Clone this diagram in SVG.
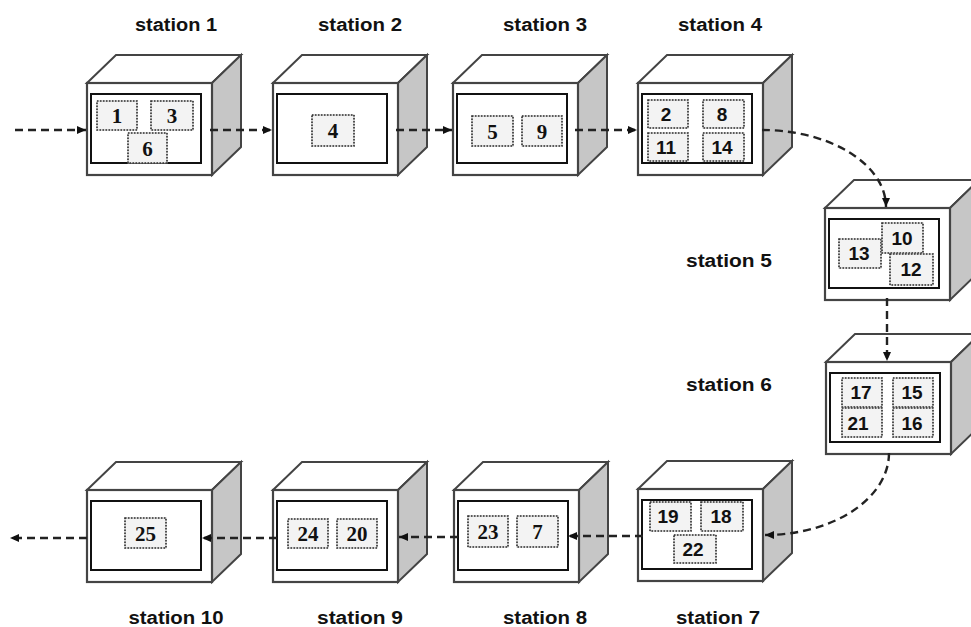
<svg xmlns="http://www.w3.org/2000/svg" xmlns:xlink="http://www.w3.org/1999/xlink" width="971" height="627" viewBox="0 0 971 627">
<style>
.bg{fill:#ffffff}
.front{fill:#ffffff;stroke:#444;stroke-width:2.2}
.top{fill:#ffffff;stroke:#444;stroke-width:2}
.side{fill:#c6c6c6;stroke:#444;stroke-width:2}
.inner{fill:#ffffff;stroke:#111;stroke-width:2}
.item{fill:#f3f3f3;stroke:#b0b0b0;stroke-width:1}
.dot{fill:none;stroke:#333;stroke-width:1.6;stroke-dasharray:1.5 1.5}
.lbl{font-family:"Liberation Sans",Arial,sans-serif;font-weight:bold;font-size:18px;fill:#111;text-anchor:middle}
.ns{font-family:"Liberation Serif","Times New Roman",serif;font-weight:bold;font-size:21px;fill:#111;text-anchor:middle}
.na{font-family:"Liberation Sans",Arial,sans-serif;font-weight:bold;font-size:19px;fill:#111;text-anchor:middle}
.con{fill:none;stroke:#222;stroke-width:2.4;stroke-dasharray:8 5}
</style>
<defs>
<marker id="arr" markerUnits="userSpaceOnUse" markerWidth="9" markerHeight="8" refX="9" refY="4" orient="auto">
<path d="M0,0 L9,4 L0,8 z" fill="#111"/>
</marker>
<g id="cube">
<polygon class="top" points="0,0 29,-28 154,-28 125,0"/>
<polygon class="side" points="125,0 154,-28 154,64 125,92"/>
<rect class="front" x="0" y="0" width="125" height="92"/>
<rect class="inner" x="4" y="11" width="110" height="69"/>
</g>
</defs>
<rect class="bg" x="0" y="0" width="971" height="627"/>

<g id="station1">
<use xlink:href="#cube" href="#cube" transform="translate(87,83)"/>
<rect class="item" x="97" y="101" width="40" height="29"/><rect class="dot" x="97" y="101" width="40" height="29"/><text class="ns" x="117" y="123">1</text>
<rect class="item" x="151" y="101" width="42" height="29"/><rect class="dot" x="151" y="101" width="42" height="29"/><text class="ns" x="172" y="123">3</text>
<rect class="item" x="128" y="133" width="39" height="30"/><rect class="dot" x="128" y="133" width="39" height="30"/><text class="ns" x="147.5" y="156">6</text>
<text class="lbl" x="176" y="31" textLength="82" lengthAdjust="spacingAndGlyphs">station 1</text>
</g>

<g id="station2">
<use xlink:href="#cube" href="#cube" transform="translate(273,83)"/>
<rect class="item" x="312" y="115" width="42" height="31"/><rect class="dot" x="312" y="115" width="42" height="31"/><text class="ns" x="333" y="138">4</text>
<text class="lbl" x="360" y="31" textLength="84" lengthAdjust="spacingAndGlyphs">station 2</text>
</g>

<g id="station3">
<use xlink:href="#cube" href="#cube" transform="translate(453,83)"/>
<rect class="item" x="472" y="116" width="41" height="30"/><rect class="dot" x="472" y="116" width="41" height="30"/><text class="ns" x="492.5" y="139">5</text>
<rect class="item" x="522" y="116" width="40" height="30"/><rect class="dot" x="522" y="116" width="40" height="30"/><text class="ns" x="542" y="139">9</text>
<text class="lbl" x="545" y="31" textLength="84" lengthAdjust="spacingAndGlyphs">station 3</text>
</g>

<g id="station4">
<use xlink:href="#cube" href="#cube" transform="translate(638,83)"/>
<rect class="item" x="648" y="100" width="40" height="28"/><rect class="dot" x="648" y="100" width="40" height="28"/><text class="na" x="666" y="121">2</text>
<rect class="item" x="703" y="100" width="41" height="28"/><rect class="dot" x="703" y="100" width="41" height="28"/><text class="na" x="722" y="121">8</text>
<rect class="item" x="648" y="133" width="40" height="28"/><rect class="dot" x="648" y="133" width="40" height="28"/><text class="na" x="666" y="154">11</text>
<rect class="item" x="703" y="133" width="41" height="28"/><rect class="dot" x="703" y="133" width="41" height="28"/><text class="na" x="722" y="154">14</text>
<text class="lbl" x="720" y="31" textLength="84" lengthAdjust="spacingAndGlyphs">station 4</text>
</g>

<g id="station5">
<use xlink:href="#cube" href="#cube" transform="translate(825,208)"/>
<rect class="item" x="839" y="239" width="42" height="29"/><rect class="dot" x="839" y="239" width="42" height="29"/><text class="na" x="859" y="260">13</text>
<rect class="item" x="882" y="223" width="41" height="30"/><rect class="dot" x="882" y="223" width="41" height="30"/><text class="na" x="902" y="245">10</text>
<rect class="item" x="890" y="254" width="43" height="31"/><rect class="dot" x="890" y="254" width="43" height="31"/><text class="na" x="911" y="276">12</text>
<text class="lbl" x="729" y="267" textLength="86" lengthAdjust="spacingAndGlyphs">station 5</text>
</g>

<g id="station6">
<use xlink:href="#cube" href="#cube" transform="translate(826,362)"/>
<rect class="item" x="842" y="378" width="40" height="29"/><rect class="dot" x="842" y="378" width="40" height="29"/><text class="na" x="861" y="399">17</text>
<rect class="item" x="893" y="378" width="40" height="29"/><rect class="dot" x="893" y="378" width="40" height="29"/><text class="na" x="912" y="399">15</text>
<rect class="item" x="842" y="408" width="40" height="29"/><rect class="dot" x="842" y="408" width="40" height="29"/><text class="na" x="858" y="430">21</text>
<rect class="item" x="893" y="408" width="40" height="29"/><rect class="dot" x="893" y="408" width="40" height="29"/><text class="na" x="912" y="430">16</text>
<text class="lbl" x="729" y="391" textLength="86" lengthAdjust="spacingAndGlyphs">station 6</text>
</g>

<g id="station7">
<use xlink:href="#cube" href="#cube" transform="translate(638,489)"/>
<rect class="item" x="650" y="502" width="41" height="29"/><rect class="dot" x="650" y="502" width="41" height="29"/><text class="na" x="668" y="523">19</text>
<rect class="item" x="701" y="502" width="42" height="29"/><rect class="dot" x="701" y="502" width="42" height="29"/><text class="na" x="721" y="523">18</text>
<rect class="item" x="674" y="535" width="42" height="28"/><rect class="dot" x="674" y="535" width="42" height="28"/><text class="na" x="693" y="556">22</text>
<text class="lbl" x="718" y="624" textLength="84" lengthAdjust="spacingAndGlyphs">station 7</text>
</g>

<g id="station8">
<use xlink:href="#cube" href="#cube" transform="translate(454,490)"/>
<rect class="item" x="468" y="516" width="40" height="31"/><rect class="dot" x="468" y="516" width="40" height="31"/><text class="ns" x="488" y="539">23</text>
<rect class="item" x="517" y="516" width="41" height="31"/><rect class="dot" x="517" y="516" width="41" height="31"/><text class="ns" x="537.5" y="539">7</text>
<text class="lbl" x="545" y="624" textLength="84" lengthAdjust="spacingAndGlyphs">station 8</text>
</g>

<g id="station9">
<use xlink:href="#cube" href="#cube" transform="translate(273,490)"/>
<rect class="item" x="288" y="519" width="40" height="29"/><rect class="dot" x="288" y="519" width="40" height="29"/><text class="ns" x="308" y="541">24</text>
<rect class="item" x="337" y="519" width="40" height="29"/><rect class="dot" x="337" y="519" width="40" height="29"/><text class="ns" x="357" y="541">20</text>
<text class="lbl" x="360" y="624" textLength="86" lengthAdjust="spacingAndGlyphs">station 9</text>
</g>

<g id="station10">
<use xlink:href="#cube" href="#cube" transform="translate(87,490)"/>
<rect class="item" x="125" y="518" width="41" height="30"/><rect class="dot" x="125" y="518" width="41" height="30"/><text class="ns" x="145.5" y="541">25</text>
<text class="lbl" x="176" y="624" textLength="95" lengthAdjust="spacingAndGlyphs">station 10</text>
</g>

<g id="connectors">
<path class="con" d="M15,130 H86" marker-end="url(#arr)"/>
<path class="con" d="M210,130 H272" marker-end="url(#arr)"/>
<path class="con" d="M396,130 H452" marker-end="url(#arr)"/>
<path class="con" d="M575,130 H637" marker-end="url(#arr)"/>
<path class="con" d="M762,130 A124 77 0 0 1 886 207" marker-end="url(#arr)"/>
<path class="con" d="M887,298 V361" marker-end="url(#arr)"/>
<path class="con" d="M889,453 A124 82 0 0 1 765 535" marker-end="url(#arr)"/>
<path class="con" d="M643,536 H568" marker-end="url(#arr)"/>
<path class="con" d="M458,537 H399" marker-end="url(#arr)"/>
<path class="con" d="M277,538 H202" marker-end="url(#arr)"/>
<path class="con" d="M87,538 H10" marker-end="url(#arr)"/>
</g>
</svg>
